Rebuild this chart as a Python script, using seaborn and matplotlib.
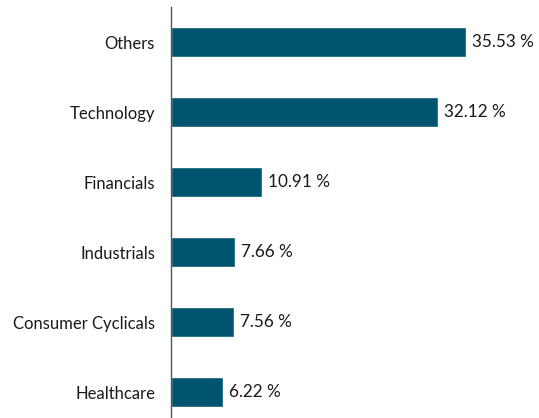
import matplotlib
matplotlib.use("Agg")
import matplotlib.pyplot as plt
import seaborn as sns
import pandas as pd

categories = ["Others", "Technology", "Financials", "Industrials", "Consumer Cyclicals", "Healthcare"]
weights = [35.53, 32.12, 10.91, 7.66, 7.56, 6.22]
value_labels = ["35.53 %", "32.12 %", "10.91 %", "7.66 %", "7.56 %", "6.22 %"]

df = pd.DataFrame({"sector": categories, "weight": weights})

sns.set_style("white")
plt.rcParams["font.family"] = ["Lato", "DejaVu Sans"]

fig = plt.figure(figsize=(5.39, 4.18), dpi=100)
ax = fig.add_axes([171 / 539, 0, 1 - 171 / 539, 1 - 7 / 418])

sns.barplot(data=df, x="weight", y="sector", orient="h", color="#005470",
            saturation=1, width=0.43, ax=ax)

for cont in ax.containers:
    ax.bar_label(cont, labels=value_labels, padding=4.3, fontsize=12.3, color="#1a1a1a")

ax.set_xlim(0, (539 - 171) / 8.30)
ax.set_ylim(5.37, -0.5)
ax.set_xlabel("")
ax.set_ylabel("")
ax.set_xticks([])
ax.tick_params(axis="y", length=0, pad=11.5, labelsize=12, labelcolor="#1a1a1a")
for side in ["top", "right", "bottom"]:
    ax.spines[side].set_visible(False)
ax.spines["left"].set_color("#555555")
ax.spines["left"].set_linewidth(1)

fig.savefig("out.png", dpi=100)
